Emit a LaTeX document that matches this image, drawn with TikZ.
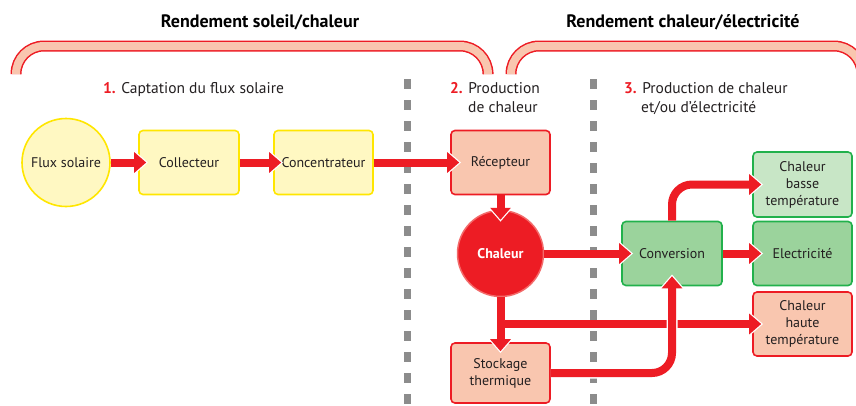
\documentclass[tikz,border=0pt]{standalone}
\usepackage{fontspec}
\setmainfont{PT Sans}
\usetikzlibrary{arrows.meta}
\definecolor{arrred}{HTML}{ED1C24}
\definecolor{salmon}{HTML}{F9C6AF}
\definecolor{yelfill}{HTML}{FFF8C2}
\definecolor{yelline}{HTML}{FFE600}
\definecolor{grnline}{HTML}{22B14C}
\definecolor{grnfill}{HTML}{9BD39C}
\definecolor{grnlight}{HTML}{C8E6C6}
\definecolor{dashgray}{HTML}{8C8C8C}
\definecolor{txt}{HTML}{231F20}
\definecolor{ringred}{HTML}{F36A6A}
\begin{document}
\begin{tikzpicture}[x=1pt,y=-1pt,
 box/.style={rounded corners=4pt, line width=1.6pt, minimum width=99pt, minimum height=64pt, align=center, text=txt, font=\fontsize{14}{17}\selectfont, inner sep=0pt},
 ybox/.style={box, draw=yelline, fill=yelfill},
 rbox/.style={box, draw=arrred, fill=salmon},
 gbox/.style={box, draw=grnline, fill=grnfill},
 lgbox/.style={box, draw=grnline, fill=grnlight},
 arr/.style={draw=arrred, line width=8pt, -{Triangle[length=12pt,width=20pt]},
   preaction={draw=white, line width=8pt, shorten >=-1.9pt, -{Triangle[length=15.1pt,width=25.2pt]}}},
 arrx/.style={draw=arrred, line width=8pt, -{Triangle[length=12pt,width=20pt]},
   preaction={draw=white, line width=11pt, shorten >=-1.9pt, -{Triangle[length=15.1pt,width=25.2pt]}}},
 bandout/.style={draw=arrred, line width=11pt, rounded corners=28pt},
 bandin/.style={draw=salmon, line width=8pt, rounded corners=28pt, shorten <=1.5pt, shorten >=1.5pt},
 sep/.style={draw=dashgray, line width=7pt, dash pattern=on 9.5pt off 11.5pt},
 title/.style={font=\fontsize{18}{20}\selectfont\bfseries, text=black, inner sep=0pt},
 lab/.style={anchor=base west, font=\fontsize{15.5}{17}\selectfont, text=txt, inner sep=0pt}
]
\useasboundingbox (0,0) rectangle (856,405);

% brackets
\coordinate (b1a) at (16,72);
\coordinate (b1b) at (488,46);
\coordinate (b1c) at (488,72);
\coordinate (b2a) at (511,72);
\coordinate (b2b) at (862,46);
\coordinate (b2c) at (862,72);
\draw[bandout] (b1a) |- (b1b) -- (b1c);
\draw[bandin] (b1a) |- (b1b) -- (b1c);
\draw[bandout] (b2a) |- (b2b) -- (b2c);
\draw[bandin] (b2a) |- (b2b) -- (b2c);

% titles
\node[title] (t1) at (260,22) {Rendement soleil/chaleur};
\node[title] (t2) at (683,22) {Rendement chaleur/électricité};

% separators
\coordinate (d1a) at (407,79);
\coordinate (d1b) at (407,410);
\coordinate (d2a) at (593,79);
\coordinate (d2b) at (593,410);
\draw[sep] (d1a) -- (d1b);
\draw[sep] (d2a) -- (d2b);

% section labels
\node[lab] (s1) at (103,93) {\textcolor{arrred}{\textbf{1.}} Captation du flux solaire};
\node[lab] (s2a) at (450,93) {\textcolor{arrred}{\textbf{2.}} Production};
\node[lab] (s2b) at (468,112) {de chaleur};
\node[lab] (s3a) at (624,93) {\textcolor{arrred}{\textbf{3.}} Production de chaleur};
\node[lab] (s3b) at (641,112) {et/ou d’électricité};

% nodes
\node[circle, draw=yelline, fill=yelfill, line width=1.6pt, minimum size=88pt, inner sep=0pt, text=txt, font=\fontsize{14}{16}\selectfont] (flux) at (66,162.5) {Flux solaire};
\node[ybox, minimum width=100pt] (coll) at (189,162.5) {Collecteur};
\node[ybox] (conc) at (323.5,162.5) {Concentrateur};
\node[rbox] (rec) at (500.5,162.5) {Récepteur};
\node[circle, draw=ringred, fill=arrred, line width=1.5pt, minimum size=86pt, inner sep=0pt, text=white, font=\fontsize{14}{16}\selectfont\bfseries] (chal) at (500.5,253.5) {Chaleur};
\node[rbox, minimum height=60pt] (stock) at (500.5,373) {Stockage\\thermique};
\node[gbox, minimum width=100pt] (conv) at (672,253.5) {Conversion};
\node[lgbox, minimum height=65pt] (basse) at (802.5,184.5) {Chaleur\\basse\\température};
\node[gbox] (elec) at (802.5,253.5) {Electricité};
\node[rbox] (haute) at (802.5,324) {Chaleur\\haute\\température};

% arrows
\draw[arr] (flux.east) -- ([xshift=8pt]coll.west);
\draw[arr] (coll.east) -- ([xshift=8pt]conc.west);
\draw[arr] (conc.east) -- ([xshift=9pt]rec.west);
\draw[arr] (rec.south) -- ([yshift=-10pt]chal.north);
\draw[arr] (chal.south) -- ([yshift=-9pt]stock.north);
\coordinate (br) at ([xshift=4pt]chal.south |- haute.west);
\draw[arr] (br) -- ([xshift=9pt]haute.west);
\draw[arr] (chal.east) -- ([xshift=10pt]conv.west);
\draw[arr] (conv.east) -- ([xshift=9pt]elec.west);
\draw[arr, rounded corners=20pt] (conv.north) |- ([xshift=9pt]basse.west);
\draw[arrx, rounded corners=20pt] (stock.east) -| ([yshift=10pt]conv.south);
\end{tikzpicture}
\end{document}
